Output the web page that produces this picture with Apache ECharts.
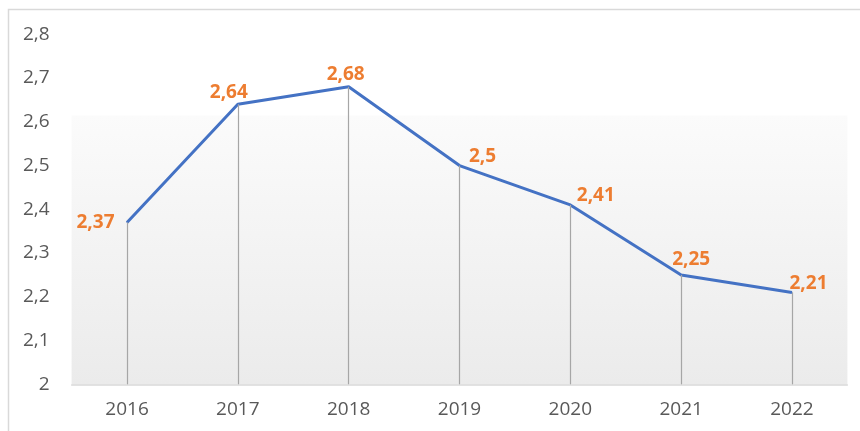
<!DOCTYPE html>
<html>
<head>
<meta charset="utf-8">
<script src="https://cdn.jsdelivr.net/npm/echarts@6/dist/echarts.min.js"></script>
<style>
    html, body { margin: 0; padding: 0; background: #fff; }
    #chart { width: 860px; height: 431px; }
</style>
</head>
<body>
<div id="chart"></div>
<script>
const years = ['2016', '2017', '2018', '2019', '2020', '2021', '2022']
const values = [2.37, 2.64, 2.68, 2.5, 2.41, 2.25, 2.21]
const yMin = 2
const yMax = 2.8

// where each value label sits relative to its point
const labelPlace = [
    { position: 'left', offset: [0, 0], distance: 12 },
    { position: 'top', offset: [-9, 2], distance: 4 },
    { position: 'top', offset: [-3, 2], distance: 4 },
    { position: 'right', offset: [0, -9], distance: 9 },
    { position: 'right', offset: [0, -9], distance: 6 },
    { position: 'top', offset: [10, 0], distance: 5 },
    { position: 'right', offset: [-4, -9], distance: 1 }
]

const fmt = v => String(v).replace('.', ',')

const chart = echarts.init(document.getElementById('chart'))

let option = {
    animation: false,
    graphic: [{
        type: 'rect',
        shape: { x: 8.5, y: 9.5, width: 870, height: 440 },
        style: { fill: 'none', stroke: '#d9d9d9', lineWidth: 1.5 },
        silent: true
    }],
    grid: {
        left: 71.6,
        right: 12.6,
        top: 34.3,
        bottom: 46.7,
        show: true,
        borderWidth: 0,
        backgroundColor: {
            type: 'linear', x: 0, y: 0, x2: 0, y2: 1,
            colorStops: [
                { offset: 0, color: '#ffffff' },
                { offset: 0.231, color: '#ffffff' },
                { offset: 0.233, color: '#fbfbfb' },
                { offset: 1, color: '#ebebeb' }
            ]
        }
    },
    xAxis: {
        type: 'category',
        data: years,
        boundaryGap: true,
        axisLine: { lineStyle: { color: '#d9d9d9', width: 1.5 } },
        axisTick: { show: false },
        axisLabel: {
            color: '#595959',
            fontFamily: 'Open Sans',
            fontSize: 19,
            margin: 16
        }
    },
    yAxis: {
        type: 'value',
        min: yMin,
        max: yMax,
        interval: 0.1,
        axisLine: { show: false },
        axisTick: { show: false },
        splitLine: { show: false },
        axisLabel: {
            color: '#595959',
            fontFamily: 'Open Sans',
            fontSize: 19,
            margin: 22,
            formatter: v => fmt(Math.round(v * 10) / 10)
        }
    },
    series: [{
        type: 'line',
        data: values.map((v, i) => ({
            value: v,
            label: labelPlace[i]
        })),
        symbol: 'circle',
        symbolSize: 1,
        showSymbol: true,
        lineStyle: { color: '#4472c4', width: 3 },
        itemStyle: { color: '#4472c4' },
        label: {
            show: true,
            color: '#ed7d31',
            fontFamily: 'Open Sans',
            fontWeight: 'bold',
            fontSize: 19,
            formatter: p => fmt(p.value)
        },
        markLine: {
            silent: true,
            symbol: 'none',
            label: { show: false },
            lineStyle: { color: '#a6a6a6', width: 1.2, type: 'solid' },
            data: years.map((y, i) => [
                { coord: [y, values[i]] },
                { coord: [y, yMin] }
            ])
        },
        z: 3
    }]
}

chart.setOption(option)
</script>
</body>
</html>
